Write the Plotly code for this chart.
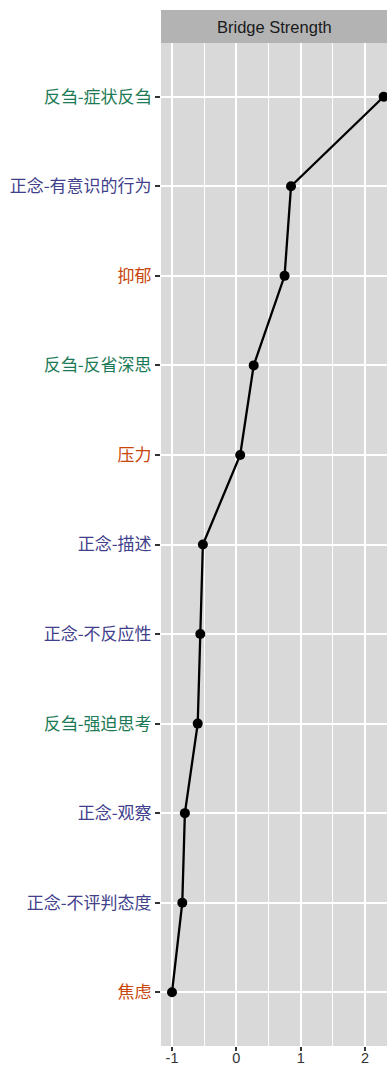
import plotly.graph_objects as go

# Nodes, top to bottom, with bridge strength (z-scored) and community
nodes = ["反刍-症状反刍", "正念-有意识的行为", "抑郁", "反刍-反省深思", "压力",
         "正念-描述", "正念-不反应性", "反刍-强迫思考", "正念-观察",
         "正念-不评判态度", "焦虑"]
bridge_strength = [2.29, 0.85, 0.75, 0.27, 0.06, -0.52, -0.56, -0.60, -0.80, -0.84, -1.00]
groups = ["反刍", "正念", "情绪", "反刍", "情绪", "正念", "正念", "反刍", "正念", "正念", "情绪"]
x_ticks = [-1, 0, 1, 2]

group_colors = {"反刍": "#1B7A55", "正念": "#423F8C", "情绪": "#C8460C"}

W, H = 387, 1068
M_L, M_R, M_T, M_B = 161, 0, 43, 22
plot_h = H - M_T - M_B
strip_h = 33

ticktext = [f"<span style='color:{group_colors[g]}'>{n}</span>" for n, g in zip(nodes, groups)]

fig = go.Figure()
fig.add_trace(go.Scatter(
    x=bridge_strength, y=nodes, mode="lines+markers",
    line=dict(color="black", width=2.3),
    marker=dict(color="black", size=10),
    cliponaxis=True, showlegend=False,
))

fig.update_layout(
    width=W, height=H,
    margin=dict(l=M_L, r=M_R, t=M_T, b=M_B, pad=0, autoexpand=False),
    paper_bgcolor="white", plot_bgcolor="#D9D9D9",
    font=dict(family="Liberation Sans, Arial", color="#333333"),
)

fig.update_xaxes(
    range=[-1.171, 2.342], tickvals=x_ticks, ticktext=[str(v) for v in x_ticks],
    showgrid=True, gridcolor="white", gridwidth=1.6,
    minor=dict(dtick=0.5, tick0=0, showgrid=True, gridcolor="white", gridwidth=0.8),
    ticks="outside", ticklen=4, tickwidth=1.6, tickcolor="#333333",
    tickfont=dict(size=14.5, color="#333333", family="Liberation Sans, Arial"),
    ticklabelstandoff=-5,
    zeroline=False, showline=False, fixedrange=True, automargin=False,
)

fig.update_yaxes(
    type="category", categoryorder="array", categoryarray=nodes,
    range=[len(nodes) - 0.4, -0.6],
    tickvals=nodes, ticktext=ticktext,
    showgrid=True, gridcolor="white", gridwidth=1.6,
    ticks="outside", ticklen=5, tickwidth=1.6, tickcolor="#333333",
    tickfont=dict(size=17, family="Noto Sans CJK SC"),
    ticklabelstandoff=0,
    zeroline=False, showline=False, fixedrange=True, automargin=False,
)

# Facet strip above the panel
fig.add_shape(
    type="rect", xref="paper", yref="paper",
    x0=0, x1=1, y0=1, y1=1 + strip_h / plot_h,
    fillcolor="#B3B3B3", line=dict(width=0), layer="below",
)
fig.add_annotation(
    text="Bridge Strength", xref="paper", yref="paper",
    x=0.5, y=1 + strip_h / plot_h / 2, xanchor="center", yanchor="middle",
    showarrow=False, font=dict(size=16.5, color="#1A1A1A", family="Liberation Sans, Arial"),
)

fig.write_html("out.html")
